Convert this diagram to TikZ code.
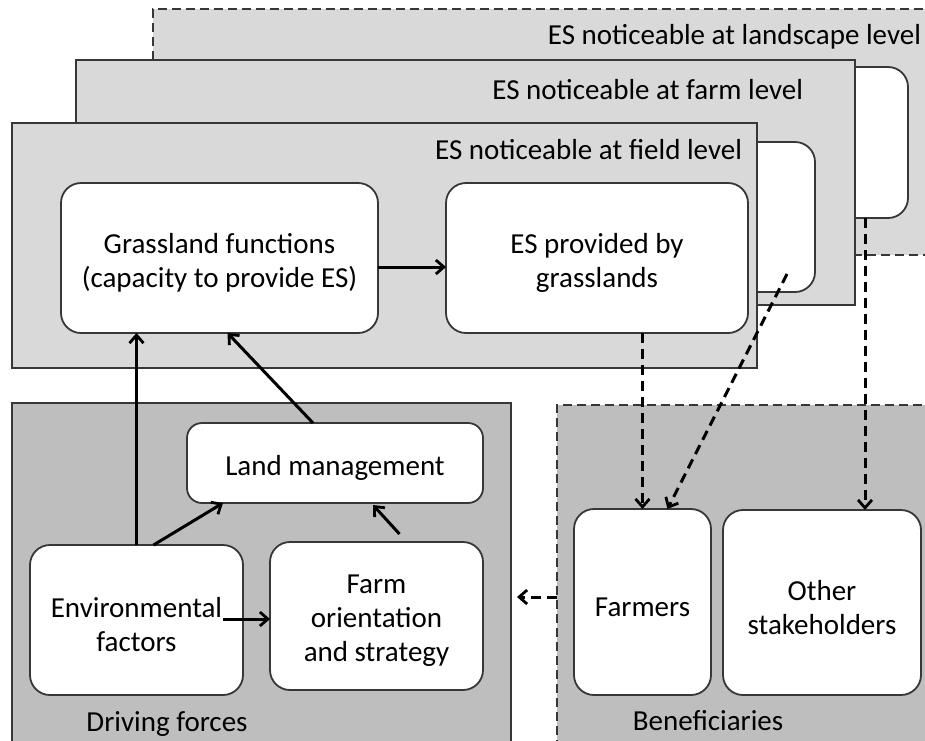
\documentclass[tikz,border=0pt]{standalone}
\usepackage{fontspec}
\setmainfont{Carlito}
\usetikzlibrary{arrows.meta}
\definecolor{panelA}{RGB}{217,217,217}
\definecolor{panelB}{RGB}{190,190,190}
\definecolor{edgec}{RGB}{55,55,55}
\begin{document}
\begin{tikzpicture}[x=1pt,y=-1pt,
  every node/.style={font=\fontsize{29}{34}\selectfont, inner sep=0pt, outer sep=0pt},
  panel/.style={draw=edgec, line width=1.9pt, rectangle},
  dpanel/.style={panel, dash pattern=on 9pt off 5pt},
  wbox/.style={draw=edgec, fill=white, line width=1.8pt, rounded corners=20pt},
  txt/.style={label={[align=center,yshift=-5pt]center:#1}},
  arr/.style={line width=3pt, -{Straight Barb[length=8pt,width=14pt,line width=2.8pt]}},
  darr/.style={arr, dash pattern=on 10pt off 6pt}]
\useasboundingbox (0,0) rectangle (925,740);
\clip (0,0) rectangle (925,740);
\fill[white] (0,0) rectangle (925,740);

% landscape level
\node[dpanel, fill=panelA, minimum width=787pt, minimum height=246pt] (landp) at (546.5,132) {};
\node[anchor=east] (landt) at (921,37) {ES noticeable at landscape level};
\node[wbox, minimum width=108pt, minimum height=151pt] (land) at (854,142.5) {};

% farm level
\node[panel, fill=panelA, minimum width=779pt, minimum height=245pt] (farmp) at (465.5,182.5) {};
\node[anchor=east] (farmt) at (803,90) {ES noticeable at farm level};
\node[wbox, minimum width=115pt, minimum height=150pt] (farmb) at (757.5,217) {};

% field level
\node[panel, fill=panelA, minimum width=745pt, minimum height=245pt] (fieldp) at (384.5,245.5) {};
\node[anchor=east] (fieldt) at (742,150) {ES noticeable at field level};
\node[wbox, minimum width=317pt, minimum height=150pt, txt={Grassland functions\\(capacity to provide ES)}] (gf) at (219.5,258) {};
\node[wbox, minimum width=302pt, minimum height=150pt, txt={ES provided by\\grasslands}] (es) at (597,258) {};

% driving forces
\node[panel, fill=panelB, minimum width=499pt, minimum height=357pt] (drivp) at (261.5,581.5) {};
\node (drivt) at (167,724) {Driving forces};
\node[wbox, rounded corners=15pt, minimum width=296pt, minimum height=80pt, txt={Land management}] (lm) at (335,463) {};
\node[wbox, minimum width=213pt, minimum height=150pt, txt={Environmental\\factors}] (env) at (136.5,620) {};
\node[wbox, minimum width=213pt, minimum height=148pt, txt={Farm\\orientation\\and strategy}] (fo) at (376.5,616) {};

% beneficiaries
\node[dpanel, fill=panelB, minimum width=383pt, minimum height=355pt] (benp) at (748.5,582.5) {};
\node (bent) at (708,721) {Beneficiaries};
\node[wbox, minimum width=137pt, minimum height=186pt, txt={Farmers}] (farmers) at (642.5,602) {};
\node[wbox, minimum width=198pt, minimum height=185pt, txt={Other\\stakeholders}] (others) at (822,602.5) {};

% solid connectors
\draw[arr] ([yshift=-9pt]gf.east) -- ([yshift=-9pt]es.west);
\draw[arr] (env.north) -- (env.north |- gf.south);
\draw[arr] ([xshift=-22pt]lm.north) -- ([xshift=8pt]gf.south);
\draw[arr] ([xshift=17pt]env.north) -- ([xshift=-112pt]lm.south);
\draw[arr] ([xshift=23pt,yshift=8pt]fo.north) -- ([xshift=38pt,yshift=-2pt]lm.south);
\coordinate (ef) at (223,619);
\draw[arr] (ef) -- (ef -| fo.west);

% dashed connectors
\draw[darr] (farmers.north |- es.south) -- (farmers.north);
\coordinate (fs) at (787,274);
\draw[darr] (fs) -- ([xshift=25pt]farmers.north);
\coordinate (o9) at ([xshift=43pt]others.north);
\draw[darr] (o9 |- land.south) -- (o9);
\coordinate (dfe) at (517,597);
\draw[darr] (benp.west |- dfe) -- (dfe);
\end{tikzpicture}
\end{document}
